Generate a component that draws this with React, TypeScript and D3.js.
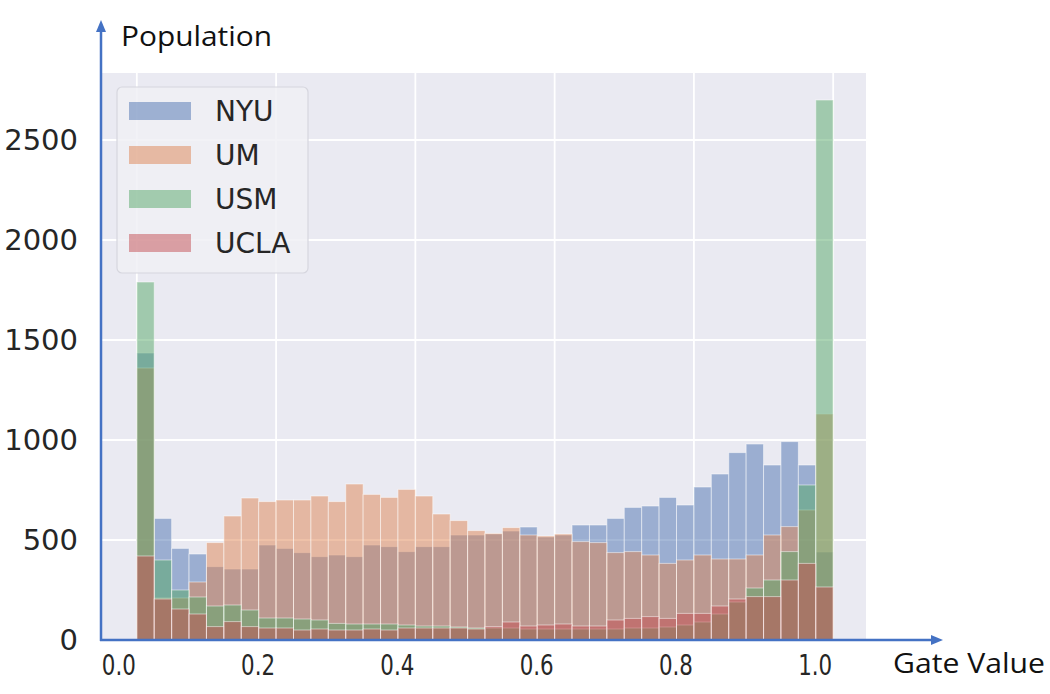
import React from 'react';
import * as d3 from 'd3';

// 40 bins of width 0.025 over [0, 1]
const binCount = 40;
const binWidth = 0.025;
const binStarts = d3.range(binCount).map((i) => i * binWidth);

const nyu = [1435, 608, 458, 430, 367, 355, 355, 475, 458, 437, 417, 425, 417, 475, 467, 442, 467, 467, 525, 525, 530, 545, 565, 515, 525, 575, 575, 608, 663, 670, 713, 675, 765, 830, 937, 980, 875, 992, 875, 440];
const um = [1360, 210, 210, 290, 487, 620, 710, 692, 700, 700, 720, 692, 780, 728, 713, 753, 720, 630, 597, 547, 533, 562, 525, 520, 530, 492, 487, 437, 442, 425, 383, 400, 425, 405, 405, 425, 525, 567, 650, 1130];
const usm = [1790, 400, 250, 215, 170, 175, 150, 110, 110, 105, 100, 83, 80, 80, 80, 75, 70, 70, 65, 60, 60, 60, 55, 55, 55, 55, 55, 55, 60, 60, 65, 75, 90, 130, 190, 260, 300, 442, 775, 2700];
const ucla = [420, 205, 155, 130, 67, 92, 67, 60, 60, 50, 55, 50, 50, 55, 50, 60, 60, 60, 60, 55, 67, 90, 70, 75, 80, 70, 70, 100, 108, 117, 108, 133, 133, 170, 205, 217, 217, 300, 383, 265];

const seriesNames = ['NYU', 'UM', 'USM', 'UCLA'];
const seriesValues = [nyu, um, usm, ucla];
const seriesColors = ['#4C72B0', '#DD8452', '#55A868', '#C44E52'];

const xTicks = [0, 0.2, 0.4, 0.6, 0.8, 1.0];
const xTickLabels = ['0.0', '0.2', '0.4', '0.6', '0.8', '1.0'];
const yTicks = [0, 500, 1000, 1500, 2000, 2500];
const yGrid = [500, 1000, 1500, 2000, 2500];

const W = 1050;
const H = 694;

export default function App() {
  const x = d3.scaleLinear().domain([-0.05, 1.05]).range([102, 868]);
  const y = d3.scaleLinear().domain([0, 2835]).range([640, 73]);
  const axisColor = '#4472C4';
  const y0 = y(0);

  return (
    <svg width={W} height={H} style={{ position: 'absolute', left: 0, top: 0, background: '#fff' }}>
      {/* plot background */}
      <rect x={x(-0.05)} y={y(2835)} width={x(1.05) - x(-0.05) - 2} height={y0 - y(2835)} fill="#EAEAF2" />
      {/* grid */}
      {yGrid.map((v) => (
        <line key={'gy' + v} x1={x(-0.05)} x2={x(1.05) - 2} y1={y(v)} y2={y(v)} stroke="#fff" strokeWidth={1.8} />
      ))}
      {xTicks.map((v) => (
        <line key={'gx' + v} x1={x(v)} x2={x(v)} y1={y(2835)} y2={y0} stroke="#fff" strokeWidth={1.8} />
      ))}
      {/* bars */}
      {seriesValues.map((vals, si) => (
        <g key={seriesNames[si]}>
          {vals.map((v, i) => (
            <rect
              key={i}
              x={x(binStarts[i])}
              y={y(v)}
              width={x(binStarts[i] + binWidth) - x(binStarts[i])}
              height={y0 - y(v)}
              fill={seriesColors[si]}
              fillOpacity={0.5}
              stroke="#ffffff"
              strokeOpacity={0.5}
              strokeWidth={1}
            />
          ))}
        </g>
      ))}
      {/* legend */}
      <rect x={117} y={87} width={191} height={186} rx={5} fill="#F0F0F5" fillOpacity={0.85} stroke="#D6D6DE" strokeWidth={1.2} />
      {seriesNames.map((name, i) => (
        <g key={'lg' + name}>
          <rect x={129} y={102 + i * 44} width={62} height={18} fill={seriesColors[i]} fillOpacity={0.5} />
          <text x={215} y={111 + i * 44} dy="0.36em" fontFamily="DejaVu Sans" fontSize={28} fill="#262626">
            {name}
          </text>
        </g>
      ))}
      {/* axes arrows */}
      <line x1={101} y1={y0 + 1} x2={101} y2={30} stroke={axisColor} strokeWidth={2.5} />
      <path d={`M101,20 L96,32 L106,32 Z`} fill={axisColor} />
      <line x1={100} y1={y0} x2={932} y2={y0} stroke={axisColor} strokeWidth={2.5} />
      <path d={`M943,${y0} L931,${y0 - 5} L931,${y0 + 5} Z`} fill={axisColor} />
      {/* y tick labels */}
      {yTicks.map((v) => (
        <text key={'yl' + v} x={78} y={y(v)} dy="0.36em" textAnchor="end" fontFamily="DejaVu Sans" fontSize={29} fill="#262626">
          {v}
        </text>
      ))}
      {/* x tick labels */}
      {xTicks.map((v, i) => (
        <text
          key={'xl' + v}
          x={x(v) - 18}
          y={665}
          dy="0.36em"
          textAnchor="middle"
          fontFamily="DejaVu Sans"
          fontSize={28}
          fill="#262626"
          textLength={34}
          lengthAdjust="spacingAndGlyphs"
        >
          {xTickLabels[i]}
        </text>
      ))}
      <text x={121} y={36} dy="0.36em" fontFamily="Open Sans" fontSize={28} fill="#111" textLength={151} lengthAdjust="spacingAndGlyphs">
        Population
      </text>
      <text x={893} y={663} dy="0.36em" fontFamily="Open Sans" fontSize={28} fill="#111" textLength={152} lengthAdjust="spacingAndGlyphs">
        Gate Value
      </text>
    </svg>
  );
}
